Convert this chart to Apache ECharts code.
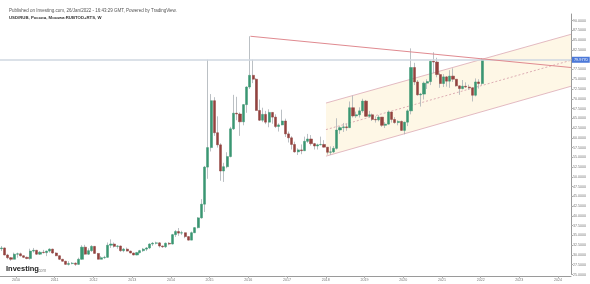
<!DOCTYPE html>
<html>
<head>
<meta charset="utf-8">
<script src="https://cdn.jsdelivr.net/npm/echarts@6/dist/echarts.min.js"></script>
<style>html,body{margin:0;padding:0;background:#fff}#c{width:590px;height:284px}</style>
</head>
<body>
<div id="c"></div>
<script>
// USD/RUB monthly candles, first candle = Aug 2009. Rows: [open, close, low, high]
const firstYear = 2009, firstMonth = 7;
const candles = [
  // 2009 Aug-Dec
  [31.6,31.8,31.0,32.3],[31.8,30.0,29.9,31.9],[30.0,29.3,28.9,30.3],[29.3,28.9,28.5,29.5],[28.9,30.2,28.9,30.6],
  // 2010
  [30.2,30.3,29.3,30.6],[30.3,29.8,29.6,30.6],[29.8,29.4,29.2,29.9],[29.4,29.1,28.9,29.6],[29.1,31.0,28.8,31.6],[31.0,31.2,30.6,31.8],
  [31.2,30.2,30.0,31.3],[30.2,30.7,30.0,31.0],[30.7,30.6,30.4,31.3],[30.6,31.0,29.7,31.1],[31.0,31.5,30.6,31.7],[31.5,30.5,30.3,31.6],
  // 2011
  [30.5,29.8,29.7,30.7],[29.8,28.9,28.7,29.9],[28.9,28.4,28.3,29.0],[28.4,27.6,27.5,28.5],[27.6,27.8,27.3,28.4],[27.8,27.9,27.6,28.2],
  [27.9,27.6,27.2,28.1],[27.6,28.9,27.5,29.3],[28.9,32.0,28.8,32.5],[32.0,30.2,30.1,32.6],[30.2,31.1,30.0,31.7],[31.1,32.2,30.8,32.5],
  // 2012
  [32.2,30.4,30.3,32.3],[30.4,28.9,28.9,30.5],[28.9,29.3,28.9,29.7],[29.3,29.4,29.0,29.8],[29.4,32.5,29.3,33.2],[32.5,32.8,31.8,34.0],
  [32.8,32.2,31.9,33.2],[32.2,32.3,31.6,32.5],[32.3,31.1,30.8,32.4],[31.1,31.5,30.7,31.8],[31.5,31.0,30.9,31.9],[31.0,30.5,30.4,31.1],
  // 2013
  [30.5,30.0,29.9,30.6],[30.0,30.6,29.9,30.8],[30.6,31.1,30.4,31.3],[31.1,31.5,30.8,31.8],[31.5,31.8,31.0,32.0],[31.8,32.8,31.5,33.0],
  [32.8,33.0,32.3,33.3],[33.0,33.1,32.7,33.4],[33.1,32.3,31.9,33.3],[32.3,32.1,31.8,32.4],[32.1,33.0,31.8,33.2],[33.0,32.8,32.5,33.3],
  // 2014
  [32.8,35.2,32.7,35.4],[35.2,36.0,34.6,36.4],[36.0,35.6,34.9,36.9],[35.6,35.7,35.1,36.2],[35.7,34.7,34.3,35.7],[34.7,33.8,33.7,34.8],
  [33.8,35.7,33.8,36.0],[35.7,37.0,35.6,37.1],[37.0,39.5,36.8,39.7],[39.5,43.0,39.3,44.3],[43.0,52.5,41.0,52.8],[52.5,57.5,49.5,80.0],
  // 2015
  [57.5,69.5,56.5,71.2],[69.5,61.3,60.5,70.4],[61.3,58.2,57.5,65.5],[58.2,51.5,49.0,58.6],[51.5,52.6,48.7,53.6],[52.6,55.2,52.2,56.3],
  [55.2,62.3,55.0,62.8],[62.3,66.3,62.0,71.0],[66.3,66.1,64.5,70.5],[66.1,64.1,60.5,66.5],[64.1,68.5,63.2,68.6],[68.5,73.0,66.4,73.2],
  // 2016
  [73.0,76.0,72.5,86.0],[76.0,75.0,74.0,80.0],[75.0,67.0,67.0,75.3],[67.0,64.5,64.3,69.8],[64.5,66.0,64.0,67.7],[66.0,64.0,63.5,66.9],
  [64.0,66.5,62.7,67.3],[66.5,65.3,63.6,66.6],[65.3,62.9,62.5,66.0],[62.9,63.3,61.6,63.7],[63.3,64.3,63.2,67.2],[64.3,61.0,60.2,64.9],
  // 2017
  [61.0,60.0,58.8,61.6],[60.0,58.3,57.0,60.4],[58.3,56.4,56.2,59.0],[56.4,56.9,55.6,57.3],[56.9,56.7,55.8,58.3],[56.7,59.1,56.6,60.3],
  [59.1,59.7,58.7,61.0],[59.7,58.5,58.0,60.7],[58.5,57.9,57.0,58.7],[57.9,58.2,57.0,58.5],[58.2,58.3,58.1,60.3],[58.3,57.6,57.5,59.4],
  // 2018
  [57.6,56.3,55.7,57.6],[56.3,56.4,55.6,57.8],[56.4,57.3,56.1,57.9],[57.3,62.0,57.0,65.0],[62.0,62.6,61.0,63.0],[62.6,62.8,61.5,63.8],
  [62.8,62.6,61.8,63.6],[62.6,67.7,62.5,69.3],[67.7,65.6,65.2,70.8],[65.6,65.9,65.1,66.7],[65.9,66.9,65.2,67.8],[66.9,69.4,66.4,70.0],
  // 2019
  [69.4,65.5,65.4,69.7],[65.5,65.9,65.2,66.9],[65.9,64.7,64.3,66.2],[64.7,64.6,63.9,65.5],[64.6,65.3,64.2,65.8],[65.3,63.2,62.8,65.3],
  [63.2,63.5,62.5,64.0],[63.5,66.6,63.4,67.0],[66.6,64.7,63.9,66.7],[64.7,63.9,63.6,65.3],[63.9,64.2,63.2,64.5],[64.2,61.9,61.8,64.4],
  // 2020
  [61.9,64.0,60.9,64.1],[64.0,66.9,63.0,67.3],[66.9,78.0,66.0,82.9],[78.0,74.3,73.5,79.2],[74.3,71.0,70.8,74.8],[71.0,71.2,68.0,71.5],
  [71.2,74.0,69.8,74.4],[74.0,74.4,72.5,75.0],[74.4,79.6,73.5,79.8],[79.6,79.4,76.5,81.9],[79.4,76.2,75.5,80.5],[76.2,73.9,72.8,76.7],
  // 2021
  [73.9,75.6,73.0,76.3],[75.6,74.5,73.1,75.8],[74.5,75.8,72.8,77.3],[75.8,75.0,74.3,77.8],[75.0,73.3,73.1,75.0],[73.3,72.6,71.0,73.4],
  [72.6,73.2,72.4,74.8],[73.2,73.0,72.8,74.2],[73.0,72.8,72.3,73.6],[72.8,70.9,69.3,72.9],[70.9,74.3,70.6,75.2],[74.3,73.9,72.6,75.0],
  // 2022 Jan
  [73.9,79.977,73.5,80.4]
];

const lastPrice = 79.977;
const lastPriceLabel = '79.9770';

// descending resistance line from the Jan-2016 high
const trendStart = ['2016-01-21', 86.0];
const trendEnd = ['2024-05-02', 78.0];

// ascending channel
const channelDates = ['2018-01-03', '2024-05-02'];
const channelUpper = [68.9, 86.5];
const channelMiddle = [62.1, 79.85];
const channelLower = [55.3, 73.2];

const axisStart = '2009-08-03', axisEnd = '2024-05-02';
const yMin = 25, yMax = 91.7, yStep = 2.5;

const headerLine1 = 'Published on Investing.com, 26/Jan/2022 - 16:43:29 GMT, Powered by TradingView.';
const headerLine2 = 'USD/RUB, Россия, Москва:RUBTOD+RTS, W';

function t(s) { const p = s.split('-').map(Number); return new Date(p[0], p[1] - 1, p[2]).getTime(); }
const dates = candles.map((_, i) => new Date(firstYear, firstMonth + i, 15).getTime());
const wickData = candles.map((c, i) => [dates[i], c[0], c[1], c[2], c[3]]);
const bodyData = candles.map((c, i) => [dates[i], c[0], c[1], Math.min(c[0], c[1]), Math.max(c[0], c[1])]);

const FONT = '"Liberation Sans", Arial, sans-serif';
const chart = echarts.init(document.getElementById('c'), null, { renderer: 'canvas' });

chart.setOption({
  animation: false,
  backgroundColor: '#ffffff',
  title: [
    { text: headerLine1, left: 4, top: 3, textStyle: { fontSize: 4.5, fontWeight: 'normal', color: '#555', fontFamily: FONT } },
    { text: headerLine2, left: 4, top: 11, textStyle: { fontSize: 4.3, fontWeight: 'bold', color: '#333', fontFamily: FONT } }
  ],
  graphic: [
    { type: 'text', left: 6, top: 265, style: { text: 'Investing', font: 'bold 7.5px ' + FONT, fill: '#1a1a1a' } },
    { type: 'text', left: 36.5, top: 268, style: { text: '.com', font: '4.5px ' + FONT, fill: '#888' } }
  ],
  grid: { left: 0, right: 19, top: 14, bottom: 9.5, containLabel: false },
  xAxis: {
    type: 'time', min: t(axisStart), max: t(axisEnd), offset: 1.5,
    minInterval: 365 * 864e5, maxInterval: 366 * 864e5,
    axisLine: { lineStyle: { color: '#9a9a9a', width: 1 } },
    axisTick: { show: true, length: 2, lineStyle: { color: '#aaa' } },
    axisLabel: { fontSize: 3.6, color: '#777', margin: 2, fontFamily: FONT,
      formatter: v => String(new Date(v).getFullYear()) },
    splitLine: { show: false }
  },
  yAxis: {
    type: 'value', position: 'right', min: yMin, max: yMax, interval: yStep, scale: true,
    axisLine: { show: true, lineStyle: { color: '#9a9a9a', width: 1 } },
    axisTick: { show: true, length: 2, lineStyle: { color: '#aaa' } },
    axisLabel: { fontSize: 3.6, color: '#777', margin: 2, fontFamily: FONT, showMaxLabel: false,
      formatter: v => v.toFixed(4) },
    splitLine: { show: false }
  },
  series: [
    {
      type: 'custom', z: 1, silent: true, clip: true,
      data: [[t(channelDates[0]), t(channelDates[1]), channelUpper[0], channelUpper[1], channelMiddle[0], channelMiddle[1], channelLower[0], channelLower[1]]],
      encode: { x: [0, 1], y: [2, 3, 4, 5, 6, 7] },
      renderItem: function (params, api) {
        const a = api.value(0), b = api.value(1);
        const u0 = api.coord([a, api.value(2)]), u1 = api.coord([b, api.value(3)]);
        const m0 = api.coord([a, api.value(4)]), m1 = api.coord([b, api.value(5)]);
        const l0 = api.coord([a, api.value(6)]), l1 = api.coord([b, api.value(7)]);
        return { type: 'group', children: [
          { type: 'polygon', shape: { points: [u0, u1, l1, l0] }, style: { fill: '#fef7e6' } },
          { type: 'polyline', shape: { points: [u0, u1] }, style: { stroke: '#dcaab5', lineWidth: 0.8, fill: null } },
          { type: 'polyline', shape: { points: [l0, l1] }, style: { stroke: '#dcaab5', lineWidth: 0.8, fill: null } },
          { type: 'polyline', shape: { points: [m0, m1] }, style: { stroke: '#d49aa7', lineWidth: 0.8, lineDash: [2, 2], fill: null } }
        ] };
      }
    },
    {
      type: 'candlestick', z: 3, data: wickData, encode: { x: 0, y: [1, 2, 3, 4] },
      barWidth: 0.8,
      itemStyle: { color: '#aab0b5', color0: '#aab0b5', borderColor: '#aab0b5', borderColor0: '#aab0b5', borderWidth: 0.8 }
    },
    {
      type: 'candlestick', z: 4, data: bodyData, encode: { x: 0, y: [1, 2, 3, 4] },
      barWidth: 2.6,
      itemStyle: { color: '#3a9672', color0: '#93423f', borderColor: '#3a9672', borderColor0: '#93423f', borderWidth: 0.5 },
      markLine: {
        silent: true, symbol: ['none', 'none'], animation: false,
        data: [
          { yAxis: lastPrice,
            lineStyle: { color: '#cfd7e0', width: 1.5, type: 'solid' },
            label: { show: true, position: 'end', formatter: lastPriceLabel, backgroundColor: '#4b78d8',
              color: '#fff', fontSize: 3.8, padding: [1, 2, 1, 2], distance: 1, fontFamily: FONT } },
          [ { coord: [t(trendStart[0]), trendStart[1]], lineStyle: { color: '#e08a90', width: 1, type: 'solid' }, label: { show: false } },
            { coord: [t(trendEnd[0]), trendEnd[1]] } ]
        ]
      }
    }
  ]
});
</script>
</body>
</html>
